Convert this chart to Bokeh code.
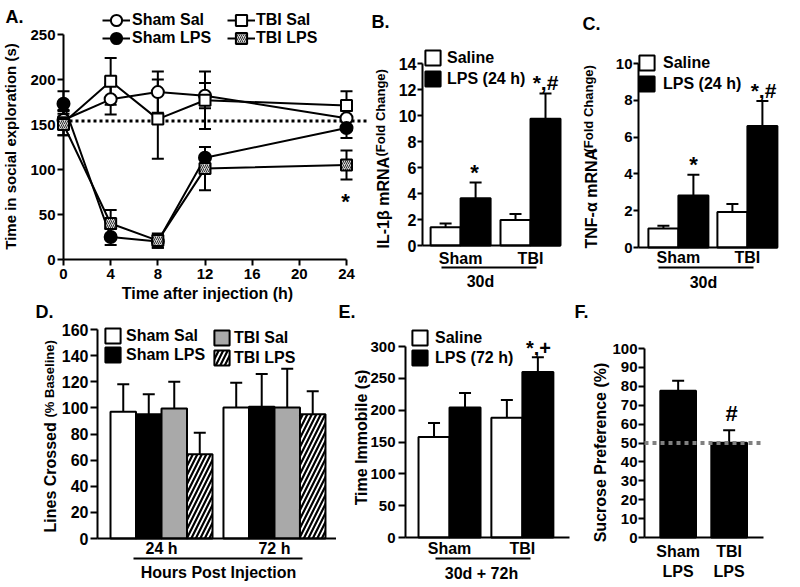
import math
from bokeh.plotting import figure
from bokeh.models import (Range1d, FixedTicker, Whisker, TeeHead, Label, Legend,
                          LegendItem, ColumnDataSource)
from bokeh.layouts import row, column
from bokeh.embed import file_html
from bokeh.resources import INLINE

FONT = "Liberation Sans"

# ---------------- data ----------------
A_TIMES = [0, 4, 8, 12, 24]
A_SHAM_SAL = [155, 178, 186, 182, 157]
A_SHAM_SAL_ERR = [10, 17, 23, 14, 8]
A_SHAM_LPS = [173, 25, 20, 113, 146]
A_SHAM_LPS_ERR = [14, 9, 7, 12, 11]
A_TBI_SAL = [152, 198, 156, 177, 171]
A_TBI_SAL_ERR = [14, 26, 44, 32, 16]
A_TBI_LPS = [150, 40, 21, 101, 105]
A_TBI_LPS_ERR = [12, 15, 8, 24, 16]
A_BASELINE = 154
A_X_TICKS = [0, 4, 8, 12, 16, 20, 24]
A_Y_TICKS = [0, 50, 100, 150, 200, 250]

MRNA_GROUPS = ["Sham", "TBI"]
B_SALINE = [1.40, 1.97]
B_SALINE_ERR = [0.30, 0.45]
B_LPS = [3.63, 9.75]
B_LPS_ERR = [1.22, 1.95]
B_Y_TICKS = [0, 2, 4, 6, 8, 10, 12, 14]

C_SALINE = [1.03, 1.93]
C_SALINE_ERR = [0.15, 0.43]
C_LPS = [2.83, 6.60]
C_LPS_ERR = [1.13, 1.36]
C_Y_TICKS = [0, 2, 4, 6, 8, 10]

D_GROUPS = ["24 h", "72 h"]
D_SHAM_SAL = [97.0, 100.3]
D_SHAM_SAL_ERR = [21.0, 19.0]
D_SHAM_LPS = [95.2, 100.8]
D_SHAM_LPS_ERR = [15.3, 25.2]
D_TBI_SAL = [99.5, 100.3]
D_TBI_SAL_ERR = [20.5, 29.7]
D_TBI_LPS = [64.5, 95.2]
D_TBI_LPS_ERR = [16.4, 17.6]
D_Y_TICKS = [0, 20, 40, 60, 80, 100, 120, 140, 160]

E_GROUPS = ["Sham", "TBI"]
E_SALINE = [158, 188]
E_SALINE_ERR = [22, 28]
E_LPS = [204, 260]
E_LPS_ERR = [23, 23]
E_Y_TICKS = [0, 50, 100, 150, 200, 250, 300]

F_GROUPS = ["Sham\nLPS", "TBI\nLPS"]
F_VALUES = [77.6, 50.1]
F_ERR = [5.4, 6.7]
F_REFERENCE = 50
F_Y_TICKS = [0, 10, 20, 30, 40, 50, 60, 70, 80, 90, 100]


# ---------------- helpers ----------------
class Panel:
    """Figure whose frame fills the whole canvas; axes are drawn at fixed locations.
    (xa at pixel Xa, kx px/unit), (y=0 at pixel Y0, ky px/unit), offy = vertical shift."""

    def __init__(self, ox, oy, w, h, offy, xa, Xa, kx, Y0, ky, xbounds, ybounds):
        self.ox, self.oy, self.w, self.h, self.offy = ox, oy, w, h, offy
        self.xa, self.Xa, self.kx = xa, Xa, kx
        self.Y0L, self.ky = Y0 - offy, ky
        xr = (xa - (Xa - ox) / kx, xa + (ox + w - Xa) / kx)
        yr = (-(oy + h - self.Y0L) / ky, (self.Y0L - oy) / ky)
        p = figure(width=w, height=h, x_range=Range1d(*xr), y_range=Range1d(*yr),
                   min_border=0, output_backend="svg", toolbar_location=None)
        p.outline_line_color = None
        p.xgrid.visible = False
        p.ygrid.visible = False
        p.yaxis.fixed_location = xbounds[0]
        p.xaxis.fixed_location = ybounds[0]
        p.yaxis.bounds = ybounds
        p.xaxis.bounds = xbounds
        self.p = p

    def dx(self, X):
        return self.xa + (X - self.Xa) / self.kx

    def dy(self, Y):
        return (self.Y0L - (Y - self.offy)) / self.ky

    def text(self, X, Y, s, size, angle=0.0, align="center", baseline="middle", style="bold"):
        self.p.add_layout(Label(x=self.dx(X), y=self.dy(Y), text=s, angle=angle,
                                text_align=align, text_baseline=baseline, text_font=FONT,
                                text_font_size=f"{size}px", text_font_style=style,
                                text_color="black"))

    def hline(self, X0, X1, Y, width=2):
        self.p.segment(x0=[self.dx(X0)], y0=[self.dy(Y)], x1=[self.dx(X1)], y1=[self.dy(Y)],
                       line_color="black", line_width=width, level="overlay")

    def legend(self, entries, X0, Ytop, gw, gh, lh, spacing, standoff, size=16):
        n = len(entries)
        item_h = max(gh, lh)
        height = n * item_h + (n - 1) * spacing
        vx = X0 - self.ox
        vy = (self.oy + self.h) - ((Ytop - self.offy) + height)
        lg = Legend(items=[LegendItem(label=l, renderers=r) for l, r in entries],
                    location=(vx, vy), orientation="vertical", glyph_width=gw,
                    glyph_height=gh, label_height=lh, spacing=spacing,
                    label_standoff=standoff, padding=0, margin=0,
                    border_line_color=None, background_fill_alpha=0,
                    label_text_font=FONT, label_text_font_size=f"{size}px",
                    label_text_font_style="bold", label_text_color="black")
        self.p.add_layout(lg)


def style_axes(P, yticks, ysize, ytick_out, ystand):
    p = P.p
    for ax in p.axis:
        ax.axis_line_width = 2
        ax.axis_line_color = "black"
        ax.major_tick_line_width = 2
        ax.major_tick_line_color = "black"
        ax.major_tick_in = 0
        ax.minor_tick_line_color = None
        ax.major_label_text_font = FONT
        ax.major_label_text_font_style = "bold"
        ax.major_label_text_color = "black"
    p.yaxis.ticker = FixedTicker(ticks=list(yticks))
    p.yaxis.major_tick_out = ytick_out
    p.yaxis.major_label_standoff = ystand
    p.yaxis.major_label_text_font_size = f"{ysize}px"


def cat_axis(P, centers, names, size, stand):
    ax = P.p.xaxis[0]
    ax.ticker = FixedTicker(ticks=list(centers))
    ax.major_label_overrides = {c: n for c, n in zip(centers, names)}
    ax.major_tick_out = 0
    ax.major_tick_line_color = None
    ax.major_label_standoff = stand
    ax.major_label_text_font_size = f"{size}px"


def positions(n_groups, n_per, gap):
    xs = [[g * (n_per + gap) + k + 0.5 for k in range(n_per)] for g in range(n_groups)]
    centers = [g * (n_per + gap) + n_per / 2 for g in range(n_groups)]
    return xs, centers


def bars(P, xs, tops, errs, fill, hatch=None, cap=12, width=1.0):
    src = ColumnDataSource(dict(x=xs, top=tops, up=[t + e for t, e in zip(tops, errs)]))
    kw = {}
    if hatch:
        kw = dict(hatch_pattern=hatch, hatch_color="black", hatch_weight=2.2, hatch_scale=9)
    r = P.p.vbar(x="x", top="top", bottom=0, width=width, source=src, fill_color=fill,
                 line_color="black", line_width=2, **kw)
    P.p.add_layout(Whisker(source=src, base="x", lower="top", upper="up", line_width=2,
                           line_color="black",
                           upper_head=TeeHead(size=cap, line_width=2, line_color="black"),
                           lower_head=None, level="annotation"))
    return r


ROW1_H = 302
ROW2_H = 587 - ROW1_H
R = math.pi / 2

# ---------------- panel A ----------------
A = Panel(0, 0, 368, ROW1_H, 0, 0, 63, 283 / 24, 259, 225 / 250, (0, 24), (0, 250))
style_axes(A, A_Y_TICKS, 15, 6, 2)
A.p.xaxis.ticker = FixedTicker(ticks=A_X_TICKS)
A.p.xaxis.major_tick_out = 6
A.p.xaxis.major_label_standoff = 3
A.p.xaxis.major_label_text_font_size = "15px"

A.p.segment(x0=[0], y0=[A_BASELINE], x1=[A.dx(370)], y1=[A_BASELINE], line_color="black",
            line_width=3, line_dash="3 3", level="overlay")

series_A = [
    ("Sham Sal", A_SHAM_SAL, A_SHAM_SAL_ERR, "circle", 12, "white", None),
    ("Sham LPS", A_SHAM_LPS, A_SHAM_LPS_ERR, "circle", 12, "black", None),
    ("TBI Sal", A_TBI_SAL, A_TBI_SAL_ERR, "square", 11, "white", None),
    ("TBI LPS", A_TBI_LPS, A_TBI_LPS_ERR, "square", 11, "#d8d8d8", "/"),
]
A_items = {}
for name, vals, errs, marker, size, fill, hatch in series_A:
    src = ColumnDataSource(dict(x=A_TIMES, y=vals,
                                lo=[v - e for v, e in zip(vals, errs)],
                                hi=[v + e for v, e in zip(vals, errs)]))
    A.p.add_layout(Whisker(source=src, base="x", lower="lo", upper="hi", line_width=2,
                           line_color="black",
                           upper_head=TeeHead(size=12, line_width=2, line_color="black"),
                           lower_head=TeeHead(size=12, line_width=2, line_color="black"),
                           level="annotation"))
    ln = A.p.line("x", "y", source=src, line_color="black", line_width=2)
    A_items[name] = (ln, src, marker, size, fill, hatch)

for name in list(A_items):
    ln, src, marker, size, fill, hatch = A_items[name]
    kw = {}
    if hatch:
        kw = dict(hatch_pattern=hatch, hatch_color="#333333", hatch_weight=1, hatch_scale=4)
    sc = A.p.scatter("x", "y", source=src, marker=marker, size=size, fill_color=fill,
                     line_color="black", line_width=2, level="overlay", **kw)
    A_items[name] = [ln, sc]

A.legend([("Sham Sal", A_items["Sham Sal"])], 102, 6, 28, 28, 17, 0, 2)
A.legend([("Sham LPS", A_items["Sham LPS"])], 102, 23.5, 28, 28, 17, 0, 2)
A.legend([("TBI Sal", A_items["TBI Sal"])], 227, 6, 28, 28, 17, 0, 1)
A.legend([("TBI LPS", A_items["TBI LPS"])], 227, 23.5, 28, 28, 17, 0, 1)

A.text(5, 16, "A.", 18, align="left")
A.text(10, 146, "Time in social exploration (s)", 15, angle=R)
A.text(207, 293, "Time after injection (h)", 16)
A.text(345, 201, "*", 22)

# ---------------- panel B ----------------
B = Panel(368, 0, 204, ROW1_H, 0, -0.27, 422, 30, 245, 182 / 14, (-0.27, 4.33), (0, 14))
style_axes(B, B_Y_TICKS, 16, 5, 1)
bx, bc = positions(2, 2, 0.33)
cat_axis(B, bc, MRNA_GROUPS, 16, 4)
rb1 = bars(B, [g[0] for g in bx], B_SALINE, B_SALINE_ERR, "white")
rb2 = bars(B, [g[1] for g in bx], B_LPS, B_LPS_ERR, "black")
B.legend([("Saline", [rb1]), ("LPS (24 h)", [rb2])], 423, 48, 19, 19, 19, 2, 5)
B.text(371, 21, "B.", 18, align="left")
B.text(382.5, 248, "IL-1β mRNA", 16, angle=R, align="left")
B.text(379.5, 156, "(Fold Change)", 13, angle=R, align="left")
B.hline(441, 536, 267)
B.text(480, 281, "30d", 16)
B.text(474, 172, "*", 22)
B.text(545, 82, "*,#", 21)

# ---------------- panel C ----------------
C = Panel(572, 0, 228, ROW1_H, 0, -0.33, 638, 30, 247, 184 / 10, (-0.33, 4.30), (0, 10))
style_axes(C, C_Y_TICKS, 15, 5, 1)
cx, cc = positions(2, 2, 0.30)
cat_axis(C, cc, MRNA_GROUPS, 16, 1)
rc1 = bars(C, [g[0] for g in cx], C_SALINE, C_SALINE_ERR, "white")
rc2 = bars(C, [g[1] for g in cx], C_LPS, C_LPS_ERR, "black")
C.legend([("Saline", [rc1]), ("LPS (24 h)", [rc2])], 637, 53, 19, 19, 19, 2, 7)
C.text(582, 23, "C.", 18, align="left")
C.text(591, 248, "TNF-α mRNA", 16, angle=R, align="left")
C.text(588, 152, "(Fold Change)", 13, angle=R, align="left")
C.hline(658, 753, 267)
C.text(703, 282, "30d", 16)
C.text(693, 164, "*", 22)
C.text(763, 90, "*,#", 21)

# ---------------- panel D ----------------
D = Panel(0, ROW1_H, 336, ROW2_H, 0, -0.51, 97, 25.5, 538, 209 / 160, (-0.51, 8.86), (0, 160))
style_axes(D, D_Y_TICKS, 16, 7, 2)
dxs, dcen = positions(2, 4, 0.43)
cat_axis(D, dcen, D_GROUPS, 16, 1)
rd1 = bars(D, [g[0] for g in dxs], D_SHAM_SAL, D_SHAM_SAL_ERR, "white")
rd2 = bars(D, [g[1] for g in dxs], D_SHAM_LPS, D_SHAM_LPS_ERR, "black")
rd3 = bars(D, [g[2] for g in dxs], D_TBI_SAL, D_TBI_SAL_ERR, "#a9a9a9")
rd4 = bars(D, [g[3] for g in dxs], D_TBI_LPS, D_TBI_LPS_ERR, "white", hatch="/")
D.legend([("Sham Sal", [rd1]), ("Sham LPS", [rd2])], 103, 328, 19, 19, 19, -2, 4)
D.legend([("TBI Sal", [rd3]), ("TBI LPS", [rd4])], 212, 328, 19, 19, 19, 1, 3)
D.text(35, 311, "D.", 18, align="left")
D.text(50, 532, "Lines Crossed", 16, angle=R, align="left")
D.text(48.5, 417, "(% Baseline)", 13, angle=R, align="left")
D.hline(133, 302, 558)
D.text(218, 572, "Hours Post Injection", 16)

# ---------------- panel E ----------------
E = Panel(336, ROW1_H, 236, ROW2_H, 0, -0.42, 405, 31, 537, 191 / 300, (-0.42, 4.87), (0, 300))
style_axes(E, E_Y_TICKS, 15, 7, 3)
exs, ecen = positions(2, 2, 0.35)
cat_axis(E, ecen, E_GROUPS, 16, 2)
re1 = bars(E, [g[0] for g in exs], E_SALINE, E_SALINE_ERR, "white")
re2 = bars(E, [g[1] for g in exs], E_LPS, E_LPS_ERR, "black")
E.legend([("Saline", [re1]), ("LPS (72 h)", [re2])], 410, 328, 19, 19, 19, 1, 6)
E.text(338, 311, "E.", 18, align="left")
E.text(361, 437, "Time Immobile (s)", 16, angle=R)
E.hline(435, 530, 558)
E.text(481, 573, "30d + 72h", 16)
E.text(538, 347, "*,+", 20)

# ---------------- panel F ----------------
F = Panel(572, ROW1_H, 228, ROW2_H, 0, -0.66, 644, 51, 537, 189 / 100, (-0.66, 1.67), (0, 100))
style_axes(F, F_Y_TICKS, 15, 6, 1)
fxs = list(range(len(F_GROUPS)))
cat_axis(F, fxs, F_GROUPS, 16, 5)
bars(F, fxs, F_VALUES, F_ERR, "black", width=0.7)
F.p.segment(x0=[-0.66], y0=[F_REFERENCE], x1=[1.67], y1=[F_REFERENCE], line_color="#808080",
            line_width=4, line_dash="4 4", level="overlay")
F.text(574, 311, "F.", 18, align="left")
F.text(600, 452, "Sucrose Preference (%)", 16, angle=R)
F.text(731, 413, "#", 22)

layout = column(row(A.p, B.p, C.p), row(D.p, E.p, F.p))
open("out.html", "w").write(file_html(layout, INLINE))
